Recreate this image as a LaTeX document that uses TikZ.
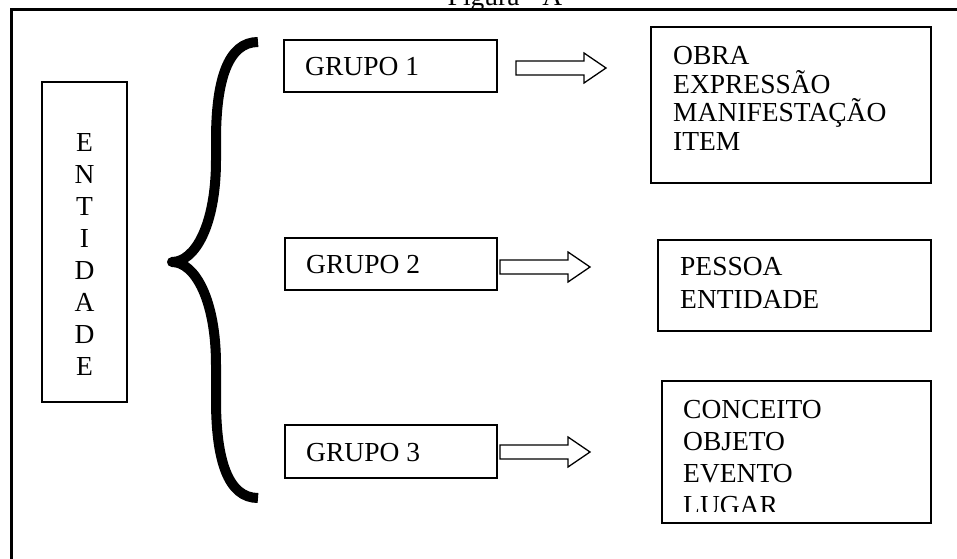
\documentclass[tikz,border=0pt]{standalone}
\usepackage{fontspec}
\setmainfont{Liberation Serif}
\begin{document}
\begin{tikzpicture}[x=1bp,y=-1bp,
  txt/.style={font=\fontsize{27.5bp}{32bp}\selectfont, inner sep=0pt, anchor=base west},
  ctxt/.style={font=\fontsize{27.5bp}{32bp}\selectfont, inner sep=0pt, anchor=base},
  box/.style={draw, line width=1.6bp, inner sep=0pt},
  blockarrow/.style={draw, line width=1.3bp, line join=miter},
  brace/.style={line width=10bp, line join=round, line cap=butt},
  barrow/.pic={\draw[blockarrow] (0,-7) -- (68,-7) -- (68,-15) -- (90,0) -- (68,15) -- (68,7) -- (0,7) -- cycle;}]
\useasboundingbox (0,0) rectangle (957,559);
\clip (0,0) rectangle (957,559);
% outer frame
\draw[line width=3bp] (11,600) -- (11,10) -- (1000,10);
% title
\node[ctxt] (title) at (505,6) {Figura - A};
% ENTIDADE
\node[box, minimum width=85bp, minimum height=320bp] (ent) at (84.5,242) {};
\foreach \L [count=\i] in {E,N,T,I,D,A,D,E}
  \node[ctxt] (e\i) at (84.5,{152+32*(\i-1)}) {\L};
% brace
\draw[brace] (258,42) .. controls (228,42) and (216,80) .. (216,140) -- (216,160)
  .. controls (216,225) and (195,262) .. (172,262)
  .. controls (195,262) and (216,300) .. (216,365) -- (216,400)
  .. controls (216,460) and (228,498) .. (258,498);
% groups
\node[box, minimum width=213bp, minimum height=52bp] (g1) at (390.5,66) {};
\node[txt] (g1t) at (305,76) {GRUPO 1};
\node[box, minimum width=212bp, minimum height=52bp] (g2) at (391,264) {};
\node[txt] (g2t) at (306,274) {GRUPO 2};
\node[box, minimum width=212bp, minimum height=53bp] (g3) at (391,451.5) {};
\node[txt] (g3t) at (306,461) {GRUPO 3};
% arrows
\pic at (516,68) {barrow};
\pic at (500,267) {barrow};
\pic at (500,452) {barrow};
% right boxes
\node[box, minimum width=280bp, minimum height=156bp] (r1) at (791,105) {};
\node[txt] (r1a) at (673,65) {OBRA};
\node[txt] (r1b) at (673,93.5) {EXPRESSÃO};
\node[txt] (r1c) at (673,122) {MANIFESTAÇÃO};
\node[txt] (r1d) at (673,150.5) {ITEM};
\node[box, minimum width=273bp, minimum height=91bp] (r2) at (794.5,285.5) {};
\node[txt] (r2a) at (680,276) {PESSOA};
\node[txt] (r2b) at (680,309) {ENTIDADE};
\node[box, minimum width=269bp, minimum height=142bp] (r3) at (796.5,452) {};
\begin{scope}
\clip (662,381) rectangle (931,511);
\node[txt] (r3a) at (683,418) {CONCEITO};
\node[txt] (r3b) at (683,450) {OBJETO};
\node[txt] (r3c) at (683,482) {EVENTO};
\node[txt] (r3d) at (683,514) {LUGAR};
\end{scope}
\end{tikzpicture}
\end{document}
